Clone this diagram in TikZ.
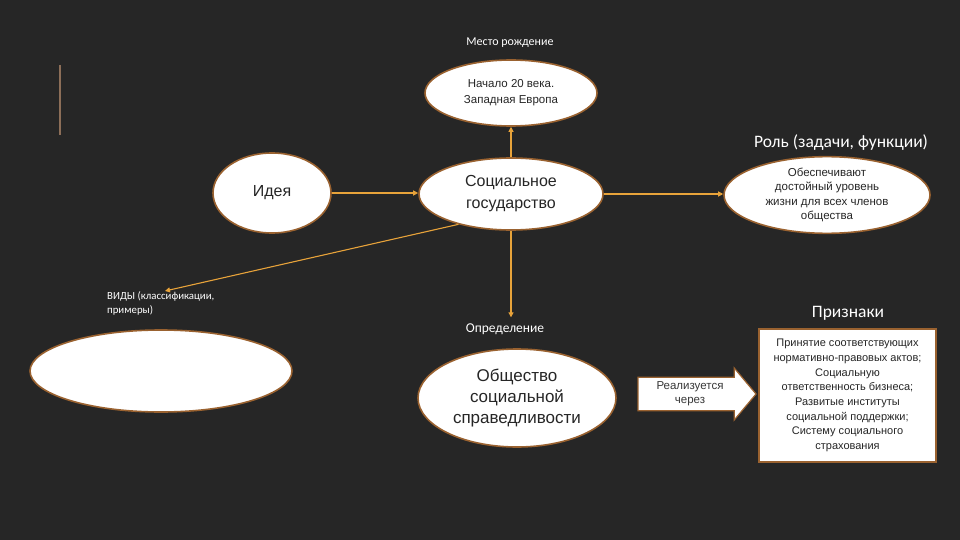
\documentclass[tikz,border=0pt]{standalone}
\usepackage{fontspec}
\setmainfont{Liberation Sans}
\newfontfamily\calib{Carlito}
\usetikzlibrary{arrows.meta,shapes.geometric,shapes.arrows}
\definecolor{bg}{HTML}{262626}
\definecolor{arr}{HTML}{E8A33A}
\definecolor{rim}{HTML}{9A6230}
\definecolor{barc}{HTML}{8C6E58}
\tikzset{
  oval/.style={ellipse, fill=white, draw=rim, line width=1.6pt, inner sep=0pt, align=center, text=black!85},
  lab/.style={text=white, inner sep=0pt, align=center},
  con/.style={draw=arr, line width=1.1pt, -{Triangle[length=5pt,width=5pt]}},
}
\begin{document}
\begin{tikzpicture}[x=1pt,y=-1pt]
\fill[bg] (0,0) rectangle (960,540);
\useasboundingbox (0,0) rectangle (960,540);
% left bar
\draw[barc, line width=2.8pt] (60,65) -- (60,135);
% nodes
\node[lab, font=\calib\fontsize{12}{14}\selectfont] (mesto) at (510,43) {Место рождение};
\node[oval, minimum width=172pt, minimum height=66pt, font=\fontsize{11.5}{16}\selectfont] (top) at (511,93) {Начало 20 века.\\Западная Европа};
\node[lab, font=\calib\fontsize{17.5}{20}\selectfont] (rol) at (841,143) {Роль (задачи, функции)};
\node[oval, minimum width=118pt, minimum height=80pt, font=\fontsize{16}{20}\selectfont] (idea) at (272,193) {Идея};
\node[oval, minimum width=184pt, minimum height=72pt, font=\fontsize{16}{22}\selectfont] (state) at (511,194) {Социальное\\государство};
\node[oval, minimum width=206pt, minimum height=68pt, font=\fontsize{11.5}{14.5}\selectfont] (role) at (827,195) {Обеспечивают\\достойный уровень\\жизни для всех членов\\общества};
\node[lab, font=\calib\fontsize{10.8}{14}\selectfont, align=left, anchor=north west] (vidy) at (107,291) {ВИДЫ (классификации,\\примеры)};
\node[oval, minimum width=262pt, minimum height=82pt] (vidyo) at (161,371) {};
\node[lab, font=\calib\fontsize{13.5}{15}\selectfont] (opr) at (505,329) {Определение};
\node[oval, minimum width=198pt, minimum height=98pt, font=\fontsize{17}{21}\selectfont] (obsh) at (517,398) {Общество\\социальной\\справедливости};
\node[single arrow, fill=white, draw=rim, line width=1.2pt, minimum width=52pt, minimum height=118pt, single arrow head extend=7pt, single arrow tip angle=100, inner sep=0pt, font=\fontsize{11.5}{14}\selectfont, text=black!78, align=center] (real) at (690,394) {Реализуется\\через};
\node[lab, font=\calib\fontsize{17.5}{20}\selectfont] (priz) at (848,313) {Признаки};
\node[draw=rim, fill=white, line width=1.4pt, minimum width=177pt, minimum height=133pt, inner sep=0pt, align=center, font=\fontsize{11}{14.7}\selectfont, text=black!85] (rect) at (847.5,395.5) {Принятие соответствующих\\нормативно-правовых актов;\\Социальную\\ответственность бизнеса;\\Развитые институты\\социальной поддержки;\\Систему социального\\страхования};
% connectors
\draw[con] (state.north) -- (top.south);
\draw[con] (idea.east) -- (idea.east -| state.west);
\draw[con] (state.east) -- (state.east -| role.west);
\draw[con] (state.south) -- ([yshift=6pt]state.south |- opr.north);
\coordinate (vt) at (165,291);
\draw[con] (state.-150) -- (vt);
\end{tikzpicture}
\end{document}
